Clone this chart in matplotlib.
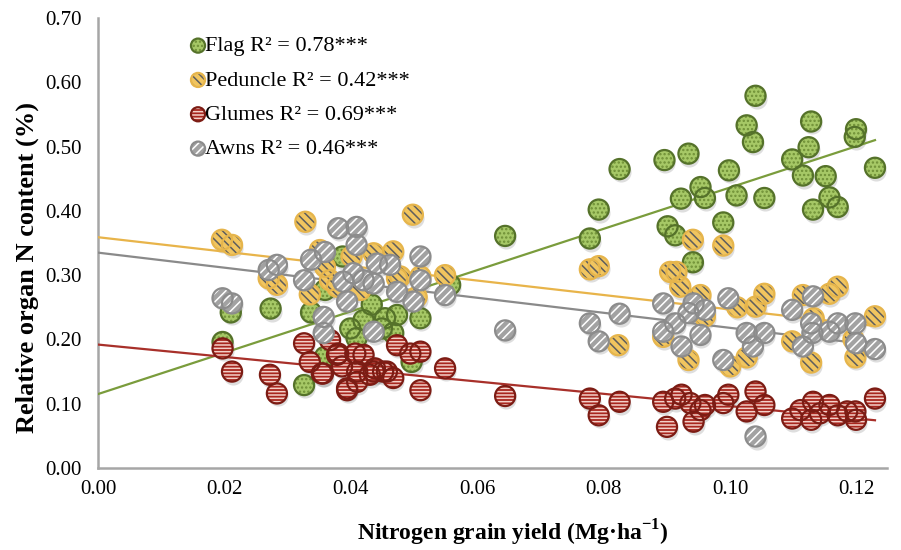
import matplotlib
matplotlib.use("Agg")
import matplotlib.pyplot as plt
import matplotlib.transforms as mtransforms
from matplotlib.ticker import FormatStrFormatter
from matplotlib.legend_handler import HandlerTuple

# values
flag_x = [0.0197, 0.0210, 0.0273, 0.0326, 0.0337, 0.0359, 0.0359, 0.0387, 0.0399, 0.0409,
          0.0420, 0.0433, 0.0449, 0.0454, 0.0467, 0.0473, 0.0496, 0.0510, 0.0557, 0.0644,
          0.0778, 0.0792, 0.0825, 0.0896, 0.0901, 0.0913, 0.0922, 0.0934, 0.0941, 0.0953,
          0.0960, 0.0989, 0.0998, 0.1010, 0.1026, 0.1036, 0.1040, 0.1054, 0.1098, 0.1115,
          0.1124, 0.1128, 0.1131, 0.1151, 0.1157, 0.1170, 0.1197, 0.1199, 0.1229]
flag_y = [0.196, 0.242, 0.248, 0.129, 0.242, 0.173, 0.277, 0.329, 0.217, 0.202,
          0.230, 0.254, 0.217, 0.233, 0.210, 0.238, 0.165, 0.233, 0.285, 0.361,
          0.357, 0.402, 0.465, 0.479, 0.376, 0.362, 0.419, 0.489, 0.320, 0.437,
          0.420, 0.382, 0.463, 0.424, 0.533, 0.507, 0.579, 0.420, 0.480, 0.455,
          0.499, 0.539, 0.402, 0.454, 0.421, 0.406, 0.515, 0.527, 0.467]

ped_x = [0.0196, 0.0212, 0.0270, 0.0283, 0.0328, 0.0335, 0.0351, 0.0359, 0.0367, 0.0378,
         0.0401, 0.0415, 0.0436, 0.0467, 0.0473, 0.0478, 0.0498, 0.0504, 0.0510, 0.0549,
         0.0778, 0.0792, 0.0823, 0.0894, 0.0905, 0.0915, 0.0921, 0.0934, 0.0941, 0.0953,
         0.0960, 0.0989, 0.1000, 0.1011, 0.1026, 0.1040, 0.1054, 0.1098, 0.1115, 0.1128,
         0.1132, 0.1157, 0.1170, 0.1195, 0.1198, 0.1229]
ped_y = [0.355, 0.347, 0.295, 0.285, 0.383, 0.270, 0.339, 0.313, 0.292, 0.282,
         0.329, 0.277, 0.334, 0.337, 0.295, 0.298, 0.394, 0.266, 0.298, 0.300,
         0.309, 0.314, 0.191, 0.204, 0.305, 0.305, 0.282, 0.168, 0.355, 0.269,
         0.236, 0.346, 0.158, 0.250, 0.172, 0.251, 0.271, 0.197, 0.269, 0.164,
         0.233, 0.271, 0.282, 0.200, 0.172, 0.236]

glu_x = [0.0197, 0.0212, 0.0272, 0.0283, 0.0326, 0.0335, 0.0354, 0.0356, 0.0367, 0.0378,
         0.0380, 0.0386, 0.0394, 0.0394, 0.0407, 0.0410, 0.0410, 0.0420, 0.0430, 0.0436,
         0.0438, 0.0451, 0.0457, 0.0467, 0.0473, 0.0494, 0.0510, 0.0510, 0.0549, 0.0644,
         0.0778, 0.0792, 0.0825, 0.0894, 0.0900, 0.0913, 0.0923, 0.0937, 0.0942, 0.0953,
         0.0960, 0.0989, 0.0997, 0.1026, 0.1040, 0.1054, 0.1098, 0.1111, 0.1128, 0.1131,
         0.1142, 0.1157, 0.1170, 0.1185, 0.1198, 0.1199, 0.1229]
glu_y = [0.186, 0.150, 0.145, 0.116, 0.194, 0.165, 0.147, 0.147, 0.199, 0.176,
         0.178, 0.158, 0.124, 0.121, 0.178, 0.150, 0.134, 0.176, 0.145, 0.150,
         0.155, 0.150, 0.150, 0.140, 0.191, 0.178, 0.181, 0.121, 0.155, 0.112,
         0.108, 0.082, 0.103, 0.103, 0.064, 0.108, 0.114, 0.101, 0.072, 0.090,
         0.098, 0.101, 0.114, 0.088, 0.119, 0.098, 0.077, 0.090, 0.075, 0.103,
         0.085, 0.098, 0.082, 0.088, 0.088, 0.075, 0.108]

awn_x = [0.0197, 0.0212, 0.0270, 0.0283, 0.0326, 0.0337, 0.0357, 0.0357, 0.0359, 0.0380,
         0.0388, 0.0394, 0.0404, 0.0409, 0.0409, 0.0420, 0.0436, 0.0436, 0.0441, 0.0462,
         0.0473, 0.0499, 0.0510, 0.0510, 0.0549, 0.0644,
         0.0778, 0.0792, 0.0825, 0.0894, 0.0894, 0.0913, 0.0923, 0.0934, 0.0942, 0.0953,
         0.0960, 0.0989, 0.0997, 0.1026, 0.1036, 0.1040, 0.1054, 0.1098, 0.1115, 0.1128,
         0.1130, 0.1131, 0.1157, 0.1170, 0.1198, 0.1199, 0.1229]
awn_y = [0.264, 0.256, 0.308, 0.316, 0.292, 0.324, 0.235, 0.210, 0.336, 0.373,
         0.290, 0.259, 0.303, 0.375, 0.347, 0.292, 0.212, 0.287, 0.318, 0.316,
         0.274, 0.259, 0.292, 0.329, 0.269, 0.214,
         0.225, 0.197, 0.240, 0.256, 0.212, 0.225, 0.189, 0.241, 0.256, 0.207,
         0.246, 0.168, 0.264, 0.210, 0.189, 0.049, 0.210, 0.246, 0.189, 0.225,
         0.210, 0.267, 0.212, 0.225, 0.225, 0.194, 0.185]

# linear trend lines (intercept, slope)
flag_fit = (0.115, 3.214)
ped_fit = (0.359, -1.124)
glu_fit = (0.192, -0.958)
awn_fit = (0.335, -1.170)
fit_x = [0.0, 0.1229]

labels = ["Flag R² = 0.78***", "Peduncle R² = 0.42***",
          "Glumes R² = 0.69***", "Awns R² = 0.46***"]

plt.rcParams["font.family"] = ["Liberation Serif", "DejaVu Serif"]
plt.rcParams["mathtext.fontset"] = "custom"
plt.rcParams["mathtext.rm"] = "Liberation Serif"
plt.rcParams["mathtext.bf"] = "Liberation Serif:bold"
plt.rcParams["hatch.linewidth"] = 1.1

fig = plt.figure(figsize=(9.01, 5.5), dpi=100)
ax = fig.add_axes([98 / 901, 1 - 468 / 550, 789 / 901, 450 / 550])

shadow = ax.transData + mtransforms.ScaledTranslation(0.01, -0.03, fig.dpi_scale_trans)

series = [
    (flag_x, flag_y, "#a6c866", "#6f8f36", "#55722a", "....", labels[0]),
    (ped_x, ped_y, "#f1c55f", "#5e5e5e", "#e6b54c", "\\\\\\\\", labels[1]),
    (glu_x, glu_y, "#a8261e", "#f3d0c8", "#7c1c14", "-----", labels[2]),
    (awn_x, awn_y, "#a2a2a2", "#ffffff", "#8c8c8c", "////", labels[3]),
]
fits = [(flag_fit, "#7a9c3c"), (ped_fit, "#e8b44a"), (glu_fit, "#a8302a"), (awn_fit, "#8a8a8a")]

size = 210
handles = []
for (xs, ys, face, hatch_col, edge, hatch, lab) in series:
    ax.scatter(xs, ys, s=size, color="black", alpha=0.13, linewidths=0,
               transform=shadow, zorder=2)
for (fit, col) in fits:
    b, m = fit
    ax.plot(fit_x, [b + m * v for v in fit_x], color=col, lw=1.6, zorder=3)
for i, (xs, ys, face, hatch_col, edge, hatch, lab) in enumerate(series):
    z = 4 + i
    fill = ax.scatter(xs, ys, s=size, facecolor=face, edgecolor=hatch_col,
                      hatch=hatch, linewidths=0, zorder=z)
    rim = ax.scatter(xs, ys, s=size, facecolor="none", edgecolor=edge,
                     linewidths=1.6, zorder=z)
    handles.append((fill, rim))

ax.legend(handles, labels, loc="upper left", bbox_to_anchor=(0.1, 0.98),
          frameon=False, fontsize=16, markerscale=0.7, handletextpad=-0.25,
          labelspacing=0.62, borderaxespad=0, handlelength=1.1,
          handler_map={tuple: HandlerTuple(ndivide=1)})

ax.set_xlim(0, 0.1248)
ax.set_ylim(0, 0.70)
ax.set_xticks([0.0, 0.02, 0.04, 0.06, 0.08, 0.10, 0.12])
ax.set_yticks([0.0, 0.1, 0.2, 0.3, 0.4, 0.5, 0.6, 0.7])
ax.xaxis.set_major_formatter(FormatStrFormatter("%.2f"))
ax.yaxis.set_major_formatter(FormatStrFormatter("%.2f"))
ax.tick_params(axis="both", length=0, labelsize=15)
ax.tick_params(axis="y", pad=12)
ax.tick_params(axis="x", pad=9)

for side in ["top", "right"]:
    ax.spines[side].set_visible(False)
for side in ["left", "bottom"]:
    ax.spines[side].set_color("#a6a6a6")
    ax.spines[side].set_linewidth(1.8)

ax.set_xlabel("Nitrogen grain yield (Mg·ha$^{\\mathbf{-1}}$)", fontsize=17, fontweight="bold")
ax.xaxis.set_label_coords(0.526, -0.11)
ax.set_ylabel("Relative organ N content (%)", fontsize=19, fontweight="bold")
ax.yaxis.set_label_coords(-0.075, 0.445)

fig.savefig("out.png", dpi=100)
